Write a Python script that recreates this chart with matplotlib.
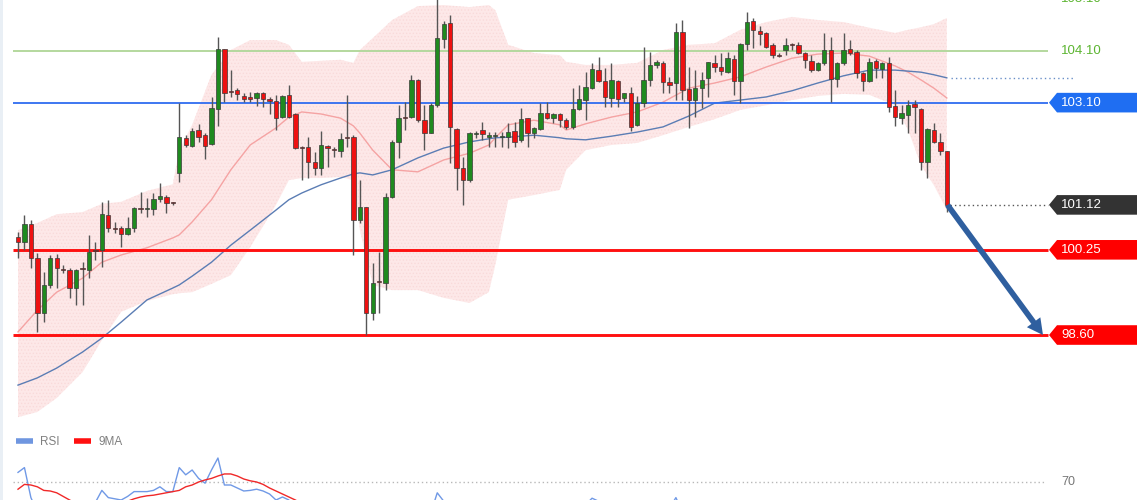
import numpy as np
import matplotlib
matplotlib.use("Agg")
import matplotlib.pyplot as plt
from matplotlib.path import Path
from matplotlib.lines import Line2D
from matplotlib.patches import Rectangle

# ---------------- data ----------------
opens = [100.50, 100.40, 100.75, 100.09, 99.03, 99.57, 100.09, 99.88, 99.86, 99.51,
         99.90, 99.86, 100.25, 100.25, 100.92, 100.67, 100.67, 100.56, 100.67, 101.06,
         101.04, 101.04, 101.24, 101.27, 101.16, 101.74, 102.42, 102.26, 102.57, 102.47,
         102.30, 102.98, 104.14, 103.33, 103.34, 103.23, 103.19, 103.19, 103.29, 103.17,
         103.13, 102.82, 103.25, 102.88, 102.24, 102.24, 101.95, 101.83, 102.26, 102.20,
         102.16, 102.43, 102.43, 100.83, 101.08, 99.03, 99.65, 99.61, 101.27, 102.34,
         102.82, 102.82, 103.54, 102.76, 102.51, 103.05, 104.33, 104.64, 102.59, 101.83,
         101.60, 102.49, 102.57, 102.43, 102.45, 102.43, 102.43, 102.55, 102.38, 102.80,
         102.51, 102.59, 102.90, 102.80, 102.88, 102.76, 102.63, 102.98, 103.15, 103.38,
         103.73, 103.52, 103.19, 103.52, 103.19, 103.29, 102.67, 103.09, 103.54, 103.83,
         103.87, 103.50, 103.48, 104.47, 103.36, 103.15, 103.38, 103.58, 103.87, 103.79,
         103.69, 103.95, 103.52, 104.24, 104.68, 104.49, 104.45, 104.22, 104.02, 104.12,
         104.22, 104.22, 104.06, 103.91, 103.73, 103.87, 104.12, 103.56, 103.87, 104.14,
         104.08, 103.67, 103.52, 103.91, 103.75, 103.87, 103.03, 102.80, 102.86, 103.07,
         102.98, 101.95, 102.57, 102.34, 102.16]
highs = [100.59, 100.92, 100.83, 100.19, 99.82, 100.15, 100.17, 99.96, 99.90, 99.88,
         100.01, 100.54, 100.40, 101.18, 101.22, 100.79, 100.71, 100.89, 101.08, 101.37,
         101.25, 101.35, 101.54, 101.31, 101.18, 103.09, 102.47, 102.61, 102.69, 102.51,
         103.21, 104.37, 104.14, 103.73, 103.38, 103.29, 103.31, 103.31, 103.31, 103.21,
         103.25, 103.25, 103.44, 102.90, 102.26, 102.43, 102.14, 102.55, 102.28, 102.24,
         102.51, 103.25, 102.47, 101.60, 101.08, 99.99, 100.21, 101.35, 102.38, 103.05,
         103.11, 103.64, 103.56, 103.05, 103.09, 105.15, 104.68, 104.80, 102.61, 102.05,
         102.53, 102.55, 102.73, 102.53, 102.53, 102.53, 102.71, 102.73, 103.00, 102.80,
         102.63, 103.09, 103.11, 102.90, 102.90, 102.80, 103.38, 103.44, 103.69, 103.87,
         103.98, 103.77, 103.87, 103.54, 103.29, 103.40, 103.23, 104.18, 104.08, 103.93,
         103.91, 103.60, 104.64, 104.70, 103.79, 103.73, 103.69, 103.89, 104.02, 104.06,
         104.08, 104.02, 104.25, 104.86, 104.74, 104.58, 104.47, 104.25, 104.06, 104.35,
         104.25, 104.27, 104.08, 104.02, 103.89, 104.45, 104.37, 103.89, 104.45, 104.31,
         104.12, 103.69, 103.96, 103.95, 103.89, 103.98, 103.34, 103.05, 103.15, 103.15,
         103.00, 102.61, 102.71, 102.51, 102.16]
lows = [100.09, 100.25, 99.90, 98.66, 98.85, 99.51, 99.51, 99.80, 99.32, 99.18,
        99.18, 99.70, 100.05, 99.92, 100.59, 100.58, 100.30, 100.54, 100.59, 100.96,
        100.89, 100.92, 101.18, 100.96, 101.12, 101.56, 102.24, 102.24, 102.34, 102.01,
        102.28, 102.65, 103.11, 103.21, 103.15, 103.11, 103.11, 103.03, 103.02, 102.88,
        102.57, 102.80, 102.80, 102.20, 101.60, 101.64, 101.70, 101.70, 101.85, 102.05,
        102.05, 102.24, 100.15, 100.77, 98.60, 98.89, 99.03, 99.47, 101.25, 102.03,
        102.57, 102.80, 102.73, 102.18, 102.51, 103.02, 104.16, 101.93, 101.41, 101.12,
        101.56, 102.42, 102.38, 102.24, 102.24, 102.24, 102.22, 102.24, 102.34, 102.24,
        102.42, 102.57, 102.78, 102.71, 102.63, 102.59, 102.59, 102.96, 102.76, 103.36,
        103.50, 103.02, 103.02, 103.02, 103.11, 102.55, 102.65, 103.02, 103.42, 103.77,
        103.29, 103.29, 103.15, 103.15, 102.61, 102.82, 103.00, 103.21, 103.69, 103.64,
        103.67, 103.25, 103.09, 104.12, 104.16, 104.22, 104.16, 103.96, 103.98, 104.02,
        104.12, 104.04, 103.77, 103.69, 103.71, 103.83, 103.11, 103.40, 103.83, 104.02,
        103.58, 103.33, 103.50, 103.58, 103.58, 102.92, 102.65, 102.69, 102.51, 102.51,
        101.80, 101.64, 102.32, 102.09, 100.98]
closes = [100.40, 100.75, 100.09, 99.03, 99.57, 100.09, 99.90, 99.86, 99.51, 99.86,
          99.88, 100.21, 100.23, 100.94, 100.67, 100.65, 100.56, 100.67, 101.06, 101.04,
          101.06, 101.24, 101.29, 101.16, 101.15, 102.43, 102.28, 102.55, 102.43, 102.26,
          103.00, 104.14, 103.29, 103.31, 103.27, 103.17, 103.18, 103.29, 103.17, 103.13,
          102.80, 103.23, 102.82, 102.22, 102.23, 101.95, 101.83, 102.28, 102.22, 102.19,
          102.40, 102.42, 100.83, 101.08, 99.03, 99.61, 99.63, 101.27, 102.34, 102.80,
          102.81, 103.54, 102.76, 102.51, 103.05, 104.35, 104.62, 102.63, 101.83, 101.60,
          102.51, 102.50, 102.49, 102.47, 102.46, 102.44, 102.53, 102.34, 102.78, 102.51,
          102.61, 102.90, 102.80, 102.88, 102.76, 102.63, 102.98, 103.17, 103.40, 103.75,
          103.52, 103.21, 103.54, 103.17, 103.29, 102.63, 103.09, 103.54, 103.83, 103.89,
          103.50, 103.44, 104.47, 103.34, 103.15, 103.38, 103.54, 103.89, 103.79, 103.71,
          103.96, 103.52, 104.24, 104.66, 104.51, 104.43, 104.18, 104.02, 104.01, 104.22,
          104.21, 104.06, 103.93, 103.73, 103.87, 104.12, 103.56, 103.87, 104.12, 104.06,
          103.67, 103.52, 103.89, 103.77, 103.87, 103.02, 102.82, 102.90, 103.05, 103.02,
          101.95, 102.59, 102.34, 102.16, 101.12]

# indicator readings (candle index -> value)
band_idx = [0, 3, 6, 10, 13, 16, 20, 24, 25, 27, 30, 33, 36, 40, 42, 44, 47, 50, 52, 53,
            55, 58, 62, 66, 70, 73, 74, 76, 80, 84, 85, 88, 92, 96, 100, 104, 108, 112,
            116, 120, 124, 128, 132, 136, 138, 140, 142, 144]
band_upper = [100.63, 100.77, 100.94, 100.98, 101.14, 101.18, 101.39, 101.52, 102.18, 102.67,
              103.64, 104.12, 104.31, 104.31, 104.22, 103.89, 103.91, 103.93, 103.87, 104.12,
              104.35, 104.70, 104.97, 104.99, 104.95, 104.99, 104.89, 104.22, 104.06, 104.02,
              103.89, 103.83, 103.83, 103.87, 104.12, 104.22, 104.25, 104.51, 104.66, 104.76,
              104.70, 104.66, 104.55, 104.45, 104.51, 104.56, 104.62, 104.74]
band_lower = [97.01, 97.11, 97.38, 97.88, 98.50, 99.05, 99.26, 99.39, 99.41, 99.43,
              99.59, 99.76, 100.30, 101.12, 101.60, 101.64, 101.64, 101.66, 101.60, 100.63,
              99.57, 99.47, 99.47, 99.32, 99.22, 99.43, 99.96, 101.22, 101.31, 101.41,
              101.80, 102.18, 102.28, 102.32, 102.47, 102.63, 102.78, 102.96, 103.05, 103.15,
              103.23, 103.27, 103.25, 103.05, 102.57, 101.89, 101.50, 101.02]
band_mid = [98.66, 99.08, 99.43, 99.70, 100.01, 100.15, 100.29, 100.48, 100.54, 100.79,
            101.22, 101.80, 102.28, 102.61, 102.82, 102.92, 102.88, 102.80, 102.65, 102.51,
            102.18, 101.80, 101.76, 101.99, 102.12, 102.28, 102.42, 102.67, 102.76, 102.67,
            102.57, 102.69, 102.82, 102.92, 103.11, 103.38, 103.48, 103.60, 103.79, 103.96,
            104.04, 104.06, 104.00, 103.81, 103.69, 103.54, 103.38, 103.19]
ma_slow = [97.63, 97.77, 97.96, 98.27, 98.54, 98.85, 99.28, 99.51, 99.57, 99.74,
           100.01, 100.34, 100.63, 101.02, 101.22, 101.35, 101.51, 101.64, 101.72, 101.74,
           101.70, 101.80, 102.03, 102.22, 102.34, 102.40, 102.42, 102.43, 102.47, 102.42,
           102.40, 102.38, 102.45, 102.53, 102.63, 102.84, 103.09, 103.15, 103.21, 103.33,
           103.48, 103.62, 103.73, 103.73, 103.71, 103.69, 103.64, 103.58]

rsi = [78, 82, 57, 45, 38, 42, 47, 45, 44, 42,
       45, 48, 53, 63, 57, 56, 55, 58, 62, 62,
       62, 63, 66, 62, 62, 82, 76, 80, 73, 69,
       80, 90, 67.5, 67.5, 65, 62.5, 63, 64, 62.5, 60,
       55, 57.5, 55, 42, 40, 38, 36, 40, 38, 40,
       41, 43, 42, 30, 33, 22, 28, 30, 42, 48,
       50, 49, 53, 46, 44, 61, 54, 53, 40, 35,
       33, 40, 42, 41, 42, 43, 42, 44, 42, 46,
       44, 46, 48, 46, 47, 45, 43, 49, 51, 56.5,
       54, 50, 46, 50, 46, 47, 40, 45, 52, 53,
       52, 48, 57, 45, 42, 45, 47, 50, 49, 48,
       50, 46, 52, 54, 53, 50, 48, 46, 45, 46,
       48, 47, 45, 43, 42, 44, 50, 42, 46, 50,
       48, 42, 40, 45, 43, 45, 33, 30, 32, 34,
       33, 24, 30, 28, 26]
rsi_ma = [64, 68, 67.5, 66, 63, 62.5, 61, 58, 55, 52,
          49, 47, 46, 47, 49, 51, 53, 54, 56, 57.5,
          58.5, 59, 60, 61, 62, 63, 66, 67.5, 70, 71.7,
          73, 75, 76.7, 76.7, 75, 72.5, 71, 70, 68, 65,
          62.5, 60, 57.5, 55, 52, 49, 46, 44, 42, 41,
          40, 40, 39, 37, 36, 34, 33, 32, 33, 35,
          38, 40, 43, 45, 46, 48, 50, 51, 50, 48,
          46, 45, 44, 43, 43, 42, 42, 42, 43, 44,
          44, 45, 45, 46, 46, 46, 46, 47, 48, 49,
          50, 50, 50, 49, 49, 48, 47, 47, 48, 49,
          50, 50, 51, 50, 49, 49, 48, 48, 48, 48,
          48, 49, 50, 50, 51, 51, 50, 49, 48, 47,
          47, 46, 46, 46, 45, 45, 46, 46, 46, 46,
          46, 45, 45, 45, 44, 44, 42, 40, 38, 37,
          35, 33, 31, 30, 28]

res_levels = [105.10, 104.10]
pivot_level = 103.10
last_price = 101.12
support_levels = [100.25, 98.60]
rsi_level = 70
legend_labels = ["RSI", "9MA"]

# ---------------- figure ----------------
W, H = 1140, 500
fig = plt.figure(figsize=(W / 100, H / 100), dpi=100)
fig.patch.set_facecolor("white")
plt.rcParams["hatch.linewidth"] = 0.6

x_left = -18 / 6.45
x_right = (W - 18) / 6.45
main_h = 425
ax = fig.add_axes([0, (H - main_h) / H, 1, main_h / H])
ax.set_xlim(x_left, x_right)
ax.set_ylim(104.10 - (main_h - 51) / 51.64, 104.10 + 51 / 51.64)
ax.axis("off")

idx = np.arange(len(opens))
o = np.array(opens); c = np.array(closes)
hi = np.array(highs); lo = np.array(lows)

# Bollinger band
ax.fill_between(band_idx, band_lower, band_upper, facecolor="#fde8e8",
                edgecolor="#f9dada", hatch=".....", linewidth=0, zorder=1)
ax.plot(band_idx, band_mid, color="#f5a3a3", lw=1.0, zorder=1.5)
ax.plot(band_idx, ma_slow, color="#5b7db4", lw=1.0, zorder=1.5)

# horizontal levels
line_end = (1048 - 18) / 6.45
line_start = (13 - 18) / 6.45
ax.hlines(res_levels[1], line_start, line_end, color="#b4d89e", lw=1.4, zorder=1.6)
ax.hlines(pivot_level, line_start, line_end, color="#2f6cf0", lw=1.3, zorder=1.6)
for lv in support_levels:
    ax.hlines(lv, line_start, line_end, color="#ff1010", lw=2.1, zorder=1.6)

# candles
up = c >= o
body_col = np.where(up, "#1f8a1f", "#ee1111")
ax.vlines(idx, lo, hi, color="#555555", lw=1.0, zorder=2)
ax.bar(idx, np.maximum(np.abs(c - o), 0.02), bottom=np.minimum(o, c), width=0.68,
       color=body_col, edgecolor="#3a3a3a", linewidth=0.5, zorder=3)

# dotted guide lines
last_x = idx[-1]
ax.hlines(last_price, last_x + 0.5, line_end, color="#555555", lw=1.0,
          linestyles=(0, (1, 2.2)), zorder=2)
ax.hlines(ma_slow[-1], last_x + 0.6, (1075 - 18) / 6.45, color="#6a8fc8", lw=1.0,
          linestyles=(0, (1, 2.2)), zorder=2)

# arrow
ax.annotate("", xy=((1043 - 18) / 6.45, support_levels[1]), xytext=(last_x + 0.1, last_price),
            arrowprops=dict(arrowstyle="simple,tail_width=0.34,head_width=1.0,head_length=0.95",
                            mutation_scale=12, facecolor="#2f5f9f", edgecolor="none",
                            shrinkA=0, shrinkB=0), zorder=5)


def tag_box(x0, y0, width, height, mutation_size):
    ym = y0 + height / 2.0
    h = 9.8
    left = x0 - 4
    tip = x0 - 12
    right = x0 + 76
    verts = [(left, ym - h), (right, ym - h), (right, ym + h), (left, ym + h),
             (tip, ym), (left, ym - h)]
    return Path(verts, closed=True)


lab_x = (1061 - 18) / 6.45
font = ["Liberation Sans", "DejaVu Sans"]
for lv in res_levels:
    ax.text(lab_x, lv, f"{lv:.2f}", color="#5cb531", fontsize=9.5, family=font,
            ha="left", va="center", zorder=6, clip_on=False)
ax.text(lab_x, pivot_level, f"{pivot_level:.2f}", color="white", fontsize=9.5, family=font,
        ha="left", va="center", zorder=6,
        bbox=dict(boxstyle=tag_box, facecolor="#1f6ef2", edgecolor="none"))
ax.text(lab_x, last_price, f"{last_price:.2f}", color="white", fontsize=9.5, family=font,
        ha="left", va="center", zorder=6,
        bbox=dict(boxstyle=tag_box, facecolor="#333333", edgecolor="none"))
for lv in support_levels:
    ax.text(lab_x, lv, f"{lv:.2f}", color="white", fontsize=9.5, family=font,
            ha="left", va="center", zorder=6,
            bbox=dict(boxstyle=tag_box, facecolor="#ff0000", edgecolor="none"))

# ---------------- RSI panel ----------------
rsi_h = H - main_h
ax2 = fig.add_axes([0, 0, 1, rsi_h / H])
ax2.set_xlim(x_left, x_right)
ax2.set_ylim(rsi_level - (H - 482) / 1.2, rsi_level + (482 - main_h) / 1.2)
ax2.axis("off")
ax2.hlines(rsi_level, line_start, (1045 - 18) / 6.45, color="#b8b8b8", lw=1.0,
           linestyles=(0, (1, 2)))
ax2.text(lab_x, rsi_level, f"{rsi_level}", color="#777777", fontsize=9, family=font,
         ha="left", va="center")
ax2.plot(idx, rsi, color="#7099e6", lw=1.0)
ax2.plot(idx, rsi_ma, color="#f02828", lw=1.0)
handles = [Line2D([], [], color="#6f96e0", lw=4, solid_capstyle="butt"),
           Line2D([], [], color="#ff1010", lw=4, solid_capstyle="butt")]
leg = ax2.legend(handles, legend_labels, loc="center left", ncol=2, frameon=False,
                 bbox_to_anchor=(16 / W, (H - 442) / rsi_h), borderpad=0, borderaxespad=0,
                 handlelength=1.4, handletextpad=0.6, columnspacing=1.3,
                 prop={"family": font, "size": 8.5}, labelcolor="#808080")

# left border strip
fig.patches.append(Rectangle((0, 0), 3 / W, 1, transform=fig.transFigure,
                             facecolor="#e9eff5", edgecolor="none", zorder=10))

fig.savefig("out.png", dpi=100, facecolor="white")
